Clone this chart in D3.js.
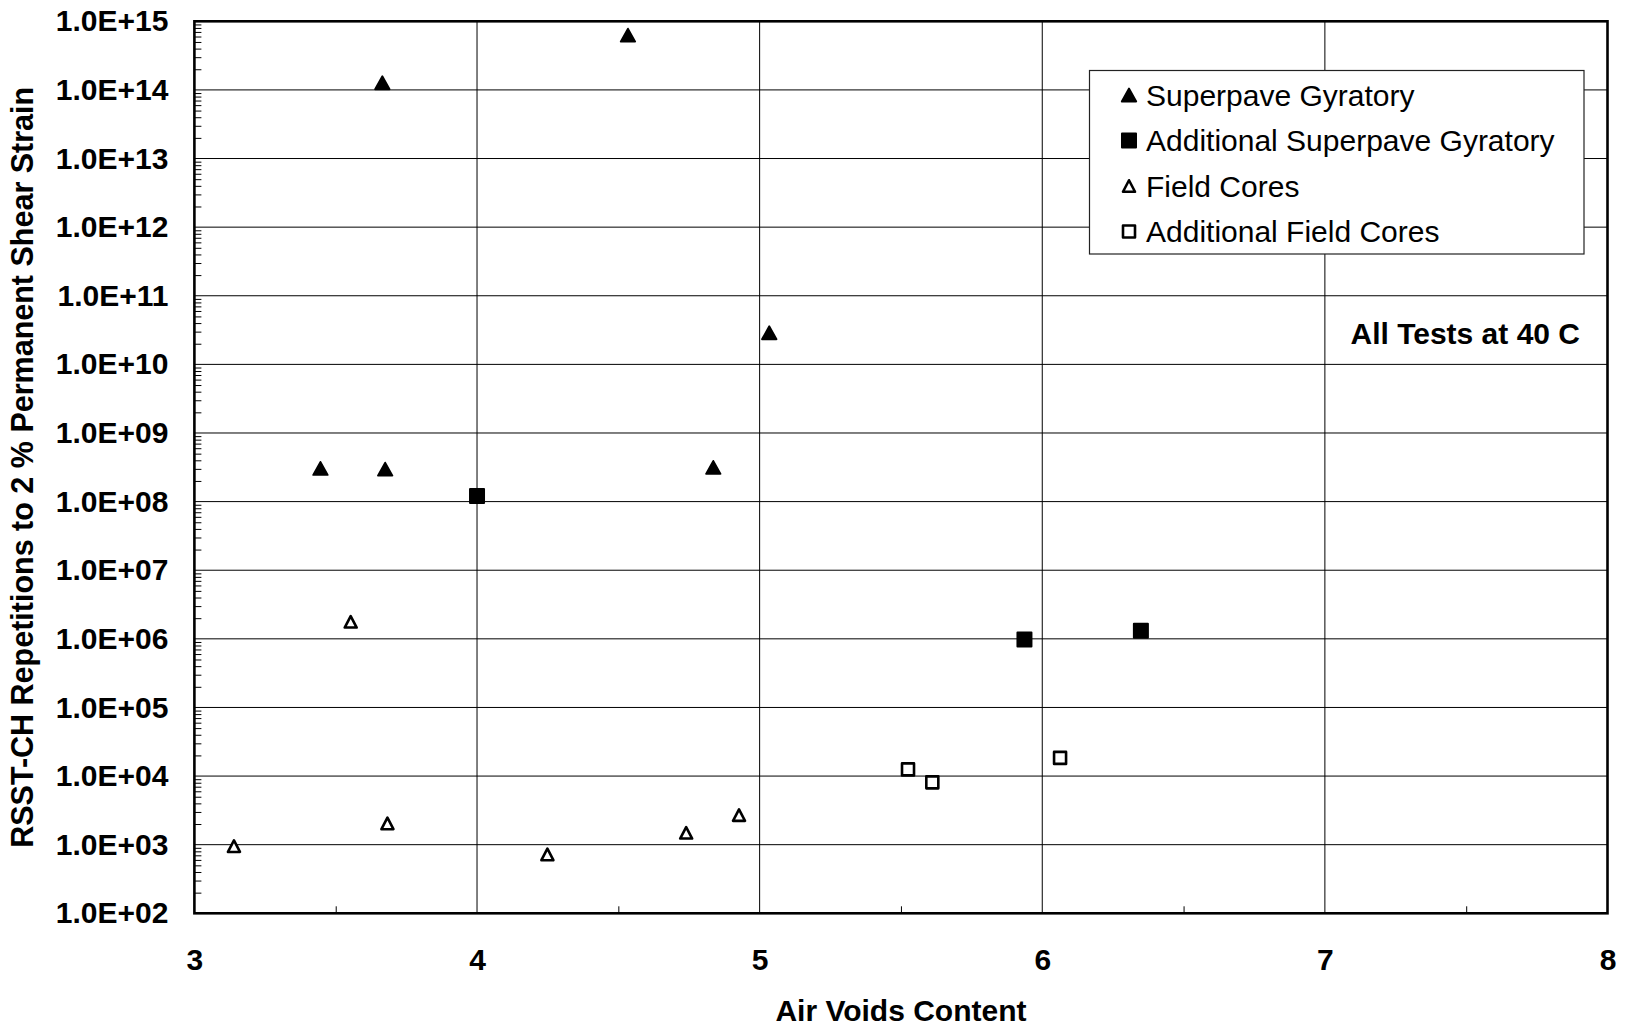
<!DOCTYPE html>
<html>
<head>
<meta charset="utf-8">
<script src="https://cdn.jsdelivr.net/npm/d3@7"></script>
<style>
  html, body { margin: 0; padding: 0; background: #fff; }
  svg { display: block; font-family: "Liberation Sans", Arial, sans-serif; }
</style>
</head>
<body>
<svg id="chart" width="1625" height="1027"></svg>
<script>
// ---- Data ----
const xTicks = [3, 4, 5, 6, 7, 8];
const xTickLabels = ["3", "4", "5", "6", "7", "8"];
const yTicks = [1e2, 1e3, 1e4, 1e5, 1e6, 1e7, 1e8, 1e9, 1e10, 1e11, 1e12, 1e13, 1e14, 1e15];
const yTickLabels = ["1.0E+02", "1.0E+03", "1.0E+04", "1.0E+05", "1.0E+06", "1.0E+07", "1.0E+08",
                     "1.0E+09", "1.0E+10", "1.0E+11", "1.0E+12", "1.0E+13", "1.0E+14", "1.0E+15"];

const seriesNames = ["Superpave Gyratory", "Additional Superpave Gyratory", "Field Cores", "Additional Field Cores"];

const sgX  = [3.665, 4.534, 5.034, 3.446, 3.675, 4.836];
const sgY  = [1.27e14, 6.3e14, 2.89e10, 3.05e8, 2.98e8, 3.16e8];

const asgX = [4.0, 5.937, 6.349];
const asgY = [1.21e8, 9.8e5, 1.31e6];

const fcX  = [3.140, 3.553, 3.683, 4.249, 4.740, 4.927];
const fcY  = [9.5e2, 1.77e6, 2.04e3, 7.2e2, 1.49e3, 2.7e3];

const afcX = [5.525, 5.611, 6.063];
const afcY = [1.25e4, 8.1e3, 1.84e4];

const xTitle = "Air Voids Content";
const yTitle = "RSST-CH Repetitions to 2 % Permanent Shear Strain";
const note = "All Tests at 40 C";

// ---- Layout ----
const L = 194.4, R = 1607.5, T = 21.3, B = 913.3;
const svg = d3.select("#chart");
const x = d3.scaleLinear().domain([3, 8]).range([L, R]);
const y = d3.scaleLog().domain([1e2, 1e15]).range([B, T]);

// Gridlines
const grid = svg.append("g").attr("stroke", "#000").attr("stroke-width", 1).attr("fill", "none");
grid.selectAll("line.h").data(yTicks.slice(1, -1)).join("line")
  .attr("x1", L).attr("x2", R).attr("y1", d => y(d)).attr("y2", d => y(d));
grid.selectAll("line.v").data(xTicks.slice(1, -1)).join("line")
  .attr("y1", T).attr("y2", B).attr("x1", d => x(d)).attr("x2", d => x(d));

// Minor ticks on y axis
const yMinor = [];
for (let k = 2; k < 15; k++) for (let m = 2; m <= 9; m++) yMinor.push(m * Math.pow(10, k));
const gyMinor = svg.append("g").attr("transform", `translate(${L},0)`)
  .call(d3.axisLeft(y).tickValues(yMinor).tickSizeInner(-7).tickSizeOuter(0).tickFormat(""));
gyMinor.select(".domain").remove();
gyMinor.selectAll("line").attr("stroke", "#000").attr("stroke-width", 1);

// Minor ticks on x axis
const xMinor = [3.5, 4.5, 5.5, 6.5, 7.5];
const gxMinor = svg.append("g").attr("transform", `translate(0,${B})`)
  .call(d3.axisBottom(x).tickValues(xMinor).tickSizeInner(-7).tickSizeOuter(0).tickFormat(""));
gxMinor.select(".domain").remove();
gxMinor.selectAll("line").attr("stroke", "#000").attr("stroke-width", 1);

// Y tick labels
const gy = svg.append("g").attr("transform", `translate(${L},0)`)
  .call(d3.axisLeft(y).tickValues(yTicks).tickSize(0).tickPadding(26)
    .tickFormat((d) => yTickLabels[yTicks.indexOf(d)]));
gy.select(".domain").remove();
gy.selectAll("text").attr("font-size", 30).attr("font-weight", "bold")
  .attr("font-family", "Liberation Sans, Arial, sans-serif").attr("fill", "#000");

// X tick labels
const gx = svg.append("g").attr("transform", `translate(0,${B})`)
  .call(d3.axisBottom(x).tickValues(xTicks).tickSize(0).tickPadding(35)
    .tickFormat((d) => xTickLabels[xTicks.indexOf(d)]));
gx.select(".domain").remove();
gx.selectAll("text").attr("font-size", 30).attr("font-weight", "bold")
  .attr("font-family", "Liberation Sans, Arial, sans-serif").attr("fill", "#000");

// Frame
svg.append("rect").attr("x", L).attr("y", T).attr("width", R - L).attr("height", B - T)
  .attr("fill", "none").attr("stroke", "#000").attr("stroke-width", 2.6);

// Marker paths
function triPath(w, h) { return `M0,${-h/2}L${w/2},${h/2}L${-w/2},${h/2}Z`; }
function sqPath(s) { return `M${-s/2},${-s/2}H${s/2}V${s/2}H${-s/2}Z`; }

const markerStyles = [
  { path: triPath(14.5, 13), fill: "#000", stroke: "#000", sw: 1.8 },
  { path: sqPath(14), fill: "#000", stroke: "#000", sw: 2 },
  { path: triPath(12, 11.5), fill: "#fff", stroke: "#000", sw: 2.6 },
  { path: sqPath(12), fill: "#fff", stroke: "#000", sw: 2.6 }
];

const series = [
  { xs: sgX, ys: sgY },
  { xs: asgX, ys: asgY },
  { xs: fcX, ys: fcY },
  { xs: afcX, ys: afcY }
];

series.forEach((s, si) => {
  const st = markerStyles[si];
  svg.append("g").selectAll("path").data(s.xs.map((v, i) => [v, s.ys[i]])).join("path")
    .attr("d", st.path)
    .attr("transform", d => `translate(${x(d[0])},${y(d[1])})`)
    .attr("fill", st.fill).attr("stroke", st.stroke).attr("stroke-width", st.sw)
    .attr("stroke-linejoin", "round");
});

// Legend
const lg = svg.append("g");
lg.append("rect").attr("x", 1089.5).attr("y", 70.5).attr("width", 494.5).attr("height", 183.5)
  .attr("fill", "#fff").attr("stroke", "#222").attr("stroke-width", 1.2);
const legendY = [95, 140.5, 186, 231.5];
seriesNames.forEach((name, i) => {
  const st = markerStyles[i];
  lg.append("path").attr("d", st.path)
    .attr("transform", `translate(1129,${legendY[i]})`)
    .attr("fill", st.fill).attr("stroke", st.stroke).attr("stroke-width", st.sw)
    .attr("stroke-linejoin", "round");
  lg.append("text").attr("x", 1146).attr("y", legendY[i]).attr("dy", "0.36em")
    .attr("font-size", 30).attr("fill", "#000").text(name);
});

// Note
svg.append("text").attr("x", 1580).attr("y", 333).attr("dy", "0.36em")
  .attr("text-anchor", "end").attr("font-size", 30).attr("font-weight", "bold").text(note);

// Axis titles
svg.append("text").attr("x", (L + R) / 2).attr("y", 1010).attr("dy", "0.36em")
  .attr("text-anchor", "middle").attr("font-size", 30).attr("font-weight", "bold").text(xTitle);
svg.append("text").attr("transform", `translate(33,${(T + B) / 2}) rotate(-90)`)
  .attr("text-anchor", "middle").attr("font-size", 30.5).attr("font-weight", "bold").text(yTitle);
</script>
</body>
</html>
